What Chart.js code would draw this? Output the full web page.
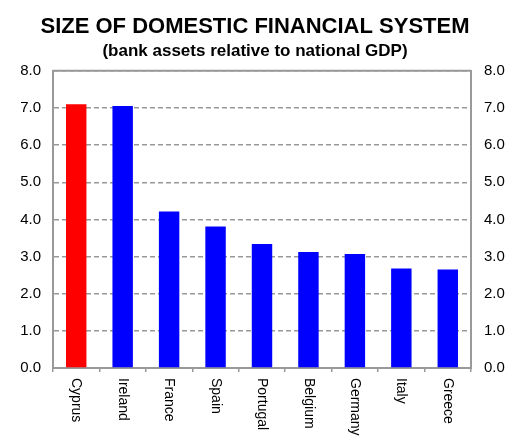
<!DOCTYPE html>
<html>
<head>
<meta charset="utf-8">
<script src="https://cdn.jsdelivr.net/npm/chart.js@4/dist/chart.umd.min.js"></script>
<style>
  html, body { margin: 0; padding: 0; background: #fff; }
  #wrap { width: 506px; height: 439px; }
</style>
</head>
<body>
<div id="wrap"><canvas id="sizeChart" width="506" height="439"></canvas></div>
<script>
// data
const countries = ['Cyprus', 'Ireland', 'France', 'Spain', 'Portugal', 'Belgium', 'Germany', 'Italy', 'Greece'];
const assetsToGdp = [7.1, 7.05, 4.21, 3.81, 3.34, 3.12, 3.07, 2.68, 2.65];
const barColors = ['#ff0000', '#0000ff', '#0000ff', '#0000ff', '#0000ff', '#0000ff', '#0000ff', '#0000ff', '#0000ff'];
const yMin = 0, yMax = 8, yStep = 1;

const FONT = 'Arial, "Liberation Sans", sans-serif';

// x labels read top-to-bottom, which Chart.js rotation can't do, so draw them here
const verticalLabels = {
  id: 'verticalLabels',
  afterDraw(chart) {
    const ctx = chart.ctx;
    const x = chart.scales.x;
    ctx.save();
    ctx.font = '14px ' + FONT;
    ctx.fillStyle = '#000';
    ctx.textAlign = 'left';
    ctx.textBaseline = 'middle';
    countries.forEach((c, i) => {
      ctx.save();
      ctx.translate(x.getPixelForValue(i), x.top + 10);
      ctx.rotate(Math.PI / 2);
      ctx.fillText(c, 0, 0);
      ctx.restore();
    });
    ctx.restore();
  }
};

// solid frame line along the top of the plot
const topFrame = {
  id: 'topFrame',
  beforeDatasetsDraw(chart) {
    const { ctx, chartArea } = chart;
    ctx.save();
    ctx.strokeStyle = '#999';
    ctx.lineWidth = 2;
    ctx.beginPath();
    ctx.moveTo(chartArea.left, chartArea.top);
    ctx.lineTo(chartArea.right, chartArea.top);
    ctx.stroke();
    ctx.restore();
  }
};

new Chart(document.getElementById('sizeChart').getContext('2d'), {
  type: 'bar',
  data: {
    labels: countries,
    datasets: [{
      data: assetsToGdp,
      backgroundColor: barColors,
      borderWidth: 0,
      barPercentage: 0.44,
      categoryPercentage: 1.0
    }]
  },
  options: {
    responsive: false,
    animation: false,
    layout: { padding: { left: 4, right: 0, top: 0, bottom: 0 } },
    plugins: {
      legend: { display: false },
      tooltip: { enabled: false },
      title: {
        display: true,
        text: 'SIZE OF DOMESTIC FINANCIAL SYSTEM',
        color: '#000',
        font: { family: FONT, size: 22, weight: 'bold' },
        padding: { top: 14, bottom: 1 }
      },
      subtitle: {
        display: true,
        text: '(bank assets relative to national GDP)',
        color: '#000',
        font: { family: FONT, size: 17, weight: 'bold' },
        padding: { top: 0, bottom: 9 }
      }
    },
    scales: {
      x: {
        offset: true,
        grid: {
          display: true,
          drawOnChartArea: false,
          offset: true,
          tickLength: 4,
          color: '#999',
          lineWidth: 1.5
        },
        border: { display: true, color: '#999', width: 2 },
        ticks: { display: false },
        afterFit(scale) { scale.height = 71; }
      },
      y: {
        position: 'left',
        min: yMin, max: yMax,
        ticks: {
          stepSize: yStep,
          color: '#000',
          font: { family: FONT, size: 15 },
          padding: 12,
          callback: v => v.toFixed(1)
        },
        grid: {
          color: '#999',
          lineWidth: 1.5,
          drawTicks: false
        },
        border: { display: true, color: '#999', width: 2, dash: [5, 3] },
        afterFit(scale) { scale.width = 49; }
      },
      y2: {
        position: 'right',
        min: yMin, max: yMax,
        ticks: {
          stepSize: yStep,
          color: '#000',
          font: { family: FONT, size: 15 },
          padding: 13,
          callback: v => v.toFixed(1)
        },
        grid: { drawOnChartArea: false, drawTicks: false },
        border: { display: true, color: '#999', width: 2 },
        afterFit(scale) { scale.width = 35; }
      }
    }
  },
  plugins: [verticalLabels, topFrame]
});
</script>
</body>
</html>
